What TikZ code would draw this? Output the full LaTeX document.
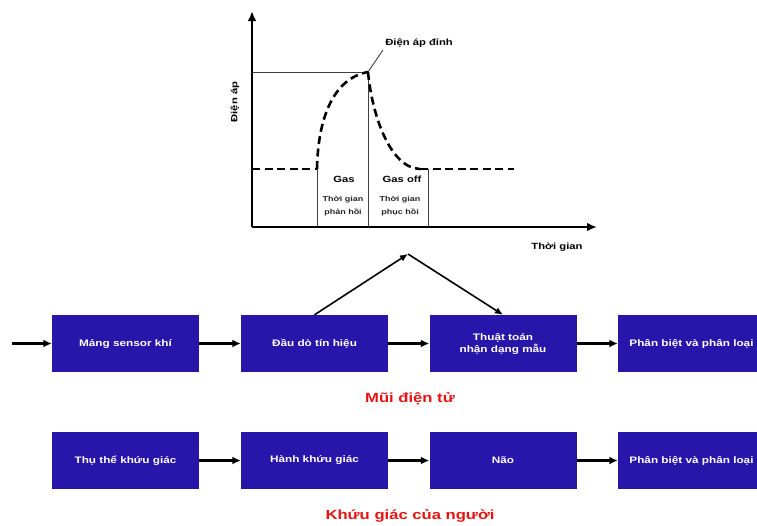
\documentclass[tikz,border=0pt]{standalone}
\usepackage{fontspec}
\setmainfont{Liberation Sans}[FakeStretch=1.25]
\usetikzlibrary{arrows.meta}
\definecolor{boxblue}{RGB}{40,22,170}
\definecolor{labred}{RGB}{232,18,18}
\begin{document}
\begin{tikzpicture}[x=1pt,y=-1pt,
  blk/.style={fill=boxblue,draw=none,minimum width=147pt,minimum height=57pt,text=white,
    font=\fontsize{9.4}{12}\selectfont\bfseries,align=center,inner sep=0pt},
  flow/.style={line width=2.2pt,-{Latex[length=8.5pt,width=8pt]}},
  link/.style={line width=1.6pt,-{Latex[length=8pt,width=7pt]}},
  axis/.style={line width=2.6pt,-{Latex[length=10pt,width=8.5pt]}},
  thin/.style={line width=0.9pt,draw=black!75},
  curve/.style={line width=2.6pt,dash pattern=on 8pt off 4.5pt},
  glab/.style={font=\fontsize{9}{11}\selectfont\bfseries,inner sep=0pt},
  slab/.style={font=\fontsize{7.2}{13}\selectfont\bfseries,align=center,inner sep=0pt,text=black!85},
  redlab/.style={font=\fontsize{13.3}{15}\selectfont\bfseries,text=labred,inner sep=0pt}
]
\clip (0,0) rectangle (757,525);

% ---- graph ----
\coordinate (O) at (252,227);
\coordinate (ytop) at (252,11);
\coordinate (xend) at (597,227);
\coordinate (peak) at (368,72);
\coordinate (pk0) at (252,72);
\coordinate (b0) at (252,169);
\coordinate (b1) at (317,169);
\coordinate (b2) at (420,169);
\coordinate (b3) at (514,169);
\coordinate (v1) at (317,227);
\coordinate (v2) at (368,227);
\coordinate (v3) at (428,227);
\coordinate (v3t) at (428,169);
\coordinate (lead) at (383,50);

\draw[thin] (pk0) -- (peak);
\draw[thin] (b1) -- (v1);
\draw[thin] (peak) -- (v2);
\draw[thin] (v3t) -- (v3);
\draw[thin] (peak) -- (lead);

\draw[curve] (b0) -- (b1);
\draw[curve] (b1) .. controls (318,115) and (335,78) .. (peak);
\draw[curve] (peak) .. controls (372,115) and (390,168) .. (b2);
\draw[curve] (b2) -- (b3);

\draw[axis] (O) -- (ytop);
\draw[axis] (O) -- (xend);

\node[glab] (lpeak) at (419,43) {Điện áp đỉnh};
\node[glab,rotate=90] (lvolt) at (235,102) {Điện áp};
\node[glab] (ltime) at (557,247) {Thời gian};
\node[glab] (lgas) at (344,179) {Gas};
\node[glab] (lgasoff) at (402,179) {Gas off};
\node[slab] (lresp) at (343,206.5) {Thời gian\\phản hồi};
\node[slab] (lrec) at (400,206.5) {Thời gian\\phục hồi};

% ---- electronic nose ----
\node[blk] (n1) at (125.5,343.5) {Mảng sensor khí};
\node[blk] (n2) at (314.5,343.5) {Đầu dò tín hiệu};
\node[blk] (n3) at (503,343.5) {Thuật toán\\nhận dạng mẫu};
\node[blk] (n4) at (691.5,343.5) {Phân biệt và phân loại};
\coordinate (in) at (12,343.5);
\coordinate (apex) at (408,254);

\draw[flow] (in) -- (n1.west);
\draw[flow] (n1) -- (n2);
\draw[flow] (n2) -- (n3);
\draw[flow] (n3) -- (n4);
\draw[link] (n2.north) -- (apex);
\draw[link] (apex) -- (n3.north);

\node[redlab] (tnose) at (410,399) {Mũi điện tử};

% ---- human olfaction ----
\node[blk] (h1) at (125.5,460.5) {Thụ thể khứu giác};
\node[blk] (h2) at (314.5,460.5) {Hành khứu giác};
\node[blk] (h3) at (503,460.5) {Não};
\node[blk] (h4) at (691.5,460.5) {Phân biệt và phân loại};

\draw[flow] (h1) -- (h2);
\draw[flow] (h2) -- (h3);
\draw[flow] (h3) -- (h4);

\node[redlab] (thuman) at (410,516) {Khứu giác của người};
\end{tikzpicture}
\end{document}
